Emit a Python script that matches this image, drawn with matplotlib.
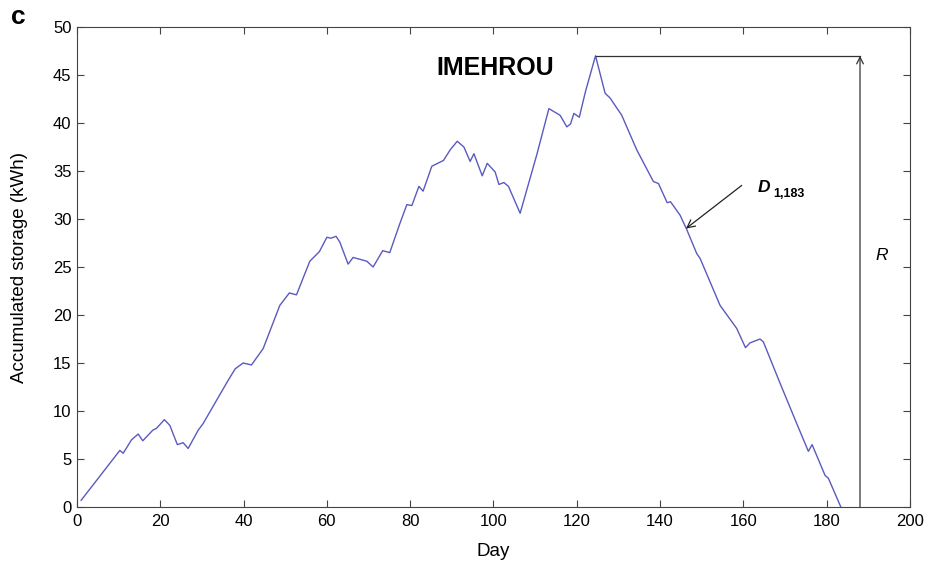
import matplotlib
matplotlib.use("Agg")
import matplotlib.pyplot as plt

plt.rcParams['font.family'] = ['Liberation Sans', 'DejaVu Sans']

# accumulated storage curve (day, kWh)
days = [1, 10.3, 11.1, 13.1, 14.7, 15.8, 18.2, 19.1, 21, 22.3, 24.1, 25.5, 26.7,
        29.1, 30.3, 36.3, 38, 39.9, 41.9, 44.7, 48.7, 51, 52.7, 55.9, 58.2, 60,
        61, 62.2, 63.1, 65.1, 66.3, 69.6, 71.1, 73.4, 75.1, 77.5, 79.2, 80.4,
        82.1, 83.1, 85.2, 88, 89.6, 91.3, 92.9, 94.4, 95.3, 97.3, 98.5, 100.4,
        101.3, 102.5, 103.6, 106.4, 110.4, 113.3, 116, 117.6, 118.5, 119.3,
        120.6, 122.1, 124.5, 126.8, 128, 130.8, 134.4, 138.4, 139.6, 141.7,
        142.5, 144.8, 146.4, 148.8, 149.6, 154.4, 158.4, 160.5, 161.6, 164,
        164.8, 168.8, 172.8, 175.6, 176.5, 179.6, 180.4, 183.4]
storage = [0.7, 5.9, 5.6, 7.0, 7.6, 6.9, 8.0, 8.2, 9.1, 8.5, 6.5, 6.7, 6.1,
           8.0, 8.7, 13.2, 14.4, 15.0, 14.8, 16.5, 21.0, 22.3, 22.1, 25.6, 26.6, 28.1,
           28.0, 28.2, 27.6, 25.3, 26.0, 25.6, 25.0, 26.7, 26.5, 29.5, 31.5, 31.4,
           33.4, 32.9, 35.5, 36.1, 37.2, 38.1, 37.5, 36.0, 36.8, 34.5, 35.8, 34.9,
           33.6, 33.8, 33.4, 30.6, 36.7, 41.5, 40.8, 39.6, 39.9, 41.0,
           40.6, 43.3, 47.0, 43.1, 42.6, 40.8, 37.2, 33.9, 33.7, 31.7,
           31.8, 30.4, 28.9, 26.4, 25.9, 21.0, 18.6, 16.6, 17.1, 17.5,
           17.2, 12.9, 8.7, 5.8, 6.5, 3.3, 3.0, 0.0]

peak_day = 124.5
peak_val = 47.0
r_day = 188

fig = plt.figure(figsize=(9.34, 5.66), dpi=100)
ax = fig.add_axes([0.0824, 0.1042, 0.8919, 0.8481])

ax.plot(days, storage, color='#5a5ac0', lw=1.0)

# R marker: horizontal line from peak and vertical arrow
ax.plot([peak_day, r_day], [peak_val, peak_val], color='#333333', lw=0.9)
ax.annotate('', xy=(r_day, peak_val), xytext=(r_day, 0),
            arrowprops=dict(arrowstyle='->', color='#333333', lw=0.9,
                            shrinkA=0, shrinkB=0, mutation_scale=12))
ax.text(191.6, 25.7, 'R', fontsize=12.5, style='italic', va='baseline')

# D annotation
ax.annotate('', xy=(146.2, 29.0), xytext=(159.6, 33.5),
            arrowprops=dict(arrowstyle='->', color='#222222', lw=0.9,
                            shrinkA=0, shrinkB=0, mutation_scale=14))
ax.text(163.5, 32.8, 'D', fontsize=12.5, fontweight='bold', style='italic', va='baseline')
ax.text(167.1, 32.25, '1,183', fontsize=9, fontweight='bold', va='baseline')

ax.text(100.4, 45.7, 'IMEHROU', fontsize=18, fontweight='bold', ha='center', va='center')

ax.set_xlim(0, 200)
ax.set_ylim(0, 50)
ax.set_xticks(range(0, 201, 20))
ax.set_yticks(range(0, 51, 5))
ax.tick_params(direction='in', top=True, right=True, labelsize=12, length=5, color='#444444')
ax.tick_params(axis='x', pad=5)
ax.tick_params(axis='y', pad=4)
for s in ax.spines.values():
    s.set_color('#444444')
    s.set_linewidth(0.8)

ax.set_xlabel('Day', fontsize=13.5, labelpad=10)
ax.set_ylabel('Accumulated storage (kWh)', fontsize=13.5, labelpad=18)

fig.text(11 / 934, 1 - 24 / 566, 'c', fontsize=19, fontweight='bold', va='baseline')

fig.savefig('out.png', dpi=100)
